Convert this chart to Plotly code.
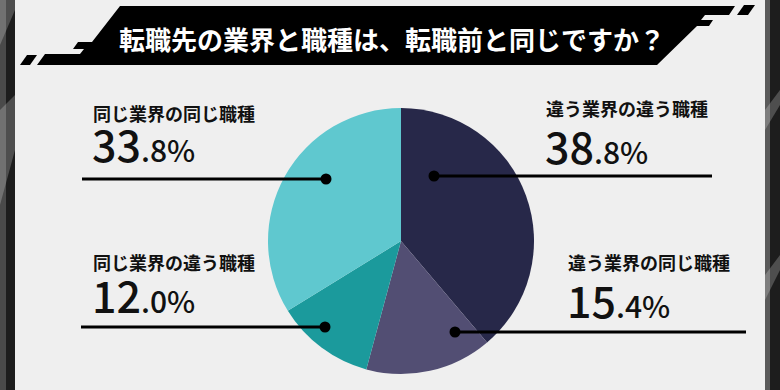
import plotly.graph_objects as go

# ---- data ----
categories = ["違う業界の違う職種", "違う業界の同じ職種", "同じ業界の違う職種", "同じ業界の同じ職種"]
shares = [38.8, 15.4, 12.0, 33.8]
colors = ["#272849", "#524e73", "#1b9a9c", "#5fc8cf"]
title_text = "転職先の業界と職種は、転職前と同じですか？"

W, H = 780, 390


def X(v):
    return v / W


def Y(v):
    return 1 - v / H


def path(points):
    s = "M " + " L ".join(f"{X(a):.5f},{Y(b):.5f}" for a, b in points) + " Z"
    return s


# label layout in pixels: text x, label center y, number center y, dot (x,y), line end x
label_layout = [
    dict(tx=545, ly=108, ny=145, dot=(434, 176), lend=712),
    dict(tx=567, ly=262, ny=299, dot=(455, 332), lend=746),
    dict(tx=92, ly=262, ny=294, dot=(325, 327), lend=81),
    dict(tx=92, ly=113, ny=143, dot=(326, 179), lend=82),
]

CX, CY, R = 401, 241, 133

fig = go.Figure()
fig.add_trace(go.Pie(
    labels=categories, values=shares, sort=False, direction="clockwise", rotation=0,
    marker=dict(colors=colors, line=dict(width=0)), textinfo="none", hoverinfo="skip",
    showlegend=False,
    domain=dict(x=[X(CX - R), X(CX + R)], y=[Y(CY + R), Y(CY - R)]),
))

shapes = []
# frame borders
shapes.append(dict(type="rect", xref="paper", yref="paper", x0=X(0), x1=X(15), y0=0, y1=1,
                   fillcolor="#1d1d1d", line=dict(width=0), layer="below"))
shapes.append(dict(type="rect", xref="paper", yref="paper", x0=X(0), x1=X(6), y0=0, y1=1,
                   fillcolor="#4a4a4a", line=dict(width=0), layer="below"))
shapes.append(dict(type="rect", xref="paper", yref="paper", x0=X(765), x1=X(780), y0=0, y1=1,
                   fillcolor="#1d1d1d", line=dict(width=0), layer="below"))
shapes.append(dict(type="rect", xref="paper", yref="paper", x0=X(765), x1=X(770), y0=0, y1=1,
                   fillcolor="#5a5a5a", line=dict(width=0), layer="below"))
for pts in ([(0, 0), (15, 0), (15, 10), (0, 45)],
            [(0, 110), (15, 95), (15, 150), (0, 205)],
            [(765, 110), (780, 90), (780, 105), (765, 130)],
            [(765, 275), (780, 255), (780, 270), (765, 300)]):
    shapes.append(dict(type="path", xref="paper", yref="paper", path=path(pts),
                       fillcolor="rgba(255,255,255,0.22)", line=dict(width=0), layer="below"))

# title banner
banner = [(120, 6), (735, 6), (729, 15), (705, 15), (701, 20), (713, 20), (709, 26), (697, 26),
          (657, 65), (37, 65), (45, 54), (80, 54), (84, 49), (73, 49), (78, 42), (92, 42)]
shapes.append(dict(type="path", xref="paper", yref="paper", path=path(banner),
                   fillcolor="#000000", line=dict(width=0), layer="below"))
for pts in ([(27, 55), (37, 55), (30, 65), (20, 65)],
            [(744, 5), (755, 5), (748, 15), (737, 15)]):
    shapes.append(dict(type="path", xref="paper", yref="paper", path=path(pts),
                       fillcolor="#000000", line=dict(width=0), layer="below"))

annotations = [dict(text=title_text, x=X(392), y=Y(39), xref="paper", yref="paper",
                    showarrow=False, xanchor="center", yanchor="middle", borderpad=0,
                    font=dict(family="Noto Sans CJK JP", size=26, color="#ffffff", weight=700))]

for cat, val, lay in zip(categories, shares, label_layout):
    dx, dy = lay["dot"]
    shapes.append(dict(type="line", xref="paper", yref="paper", x0=X(dx), x1=X(lay["lend"]),
                       y0=Y(dy), y1=Y(dy), line=dict(color="#000000", width=3), layer="above"))
    r = 5.5
    shapes.append(dict(type="circle", xref="paper", yref="paper", x0=X(dx - r), x1=X(dx + r),
                       y0=Y(dy + r), y1=Y(dy - r), fillcolor="#000000", line=dict(width=0),
                       layer="above"))
    annotations.append(dict(text=cat, x=X(lay["tx"]), y=Y(lay["ly"]), xref="paper", yref="paper",
                            showarrow=False, xanchor="left", yanchor="middle", borderpad=0,
                            font=dict(family="Noto Sans CJK JP", size=18, color="#111111",
                                      weight=700)))
    s = f"{val:.1f}"
    ip, dp = s.split(".")
    annotations.append(dict(text=f"{ip}<span style='font-size:30px'>.{dp}%</span>",
                            x=X(lay["tx"] - 1), y=Y(lay["ny"]), xref="paper", yref="paper",
                            showarrow=False, xanchor="left", yanchor="middle", borderpad=0,
                            font=dict(family="Noto Sans CJK JP", size=43, color="#111111",
                                      weight=500)))

fig.update_layout(
    width=W, height=H, margin=dict(l=0, r=0, t=0, b=0),
    paper_bgcolor="#efefef", plot_bgcolor="#efefef",
    shapes=shapes, annotations=annotations,
    xaxis=dict(visible=False), yaxis=dict(visible=False),
)

fig.write_html("out.html", config={"displayModeBar": False},
               post_script="document.body.style.margin='0px';document.body.style.overflow='hidden';")
